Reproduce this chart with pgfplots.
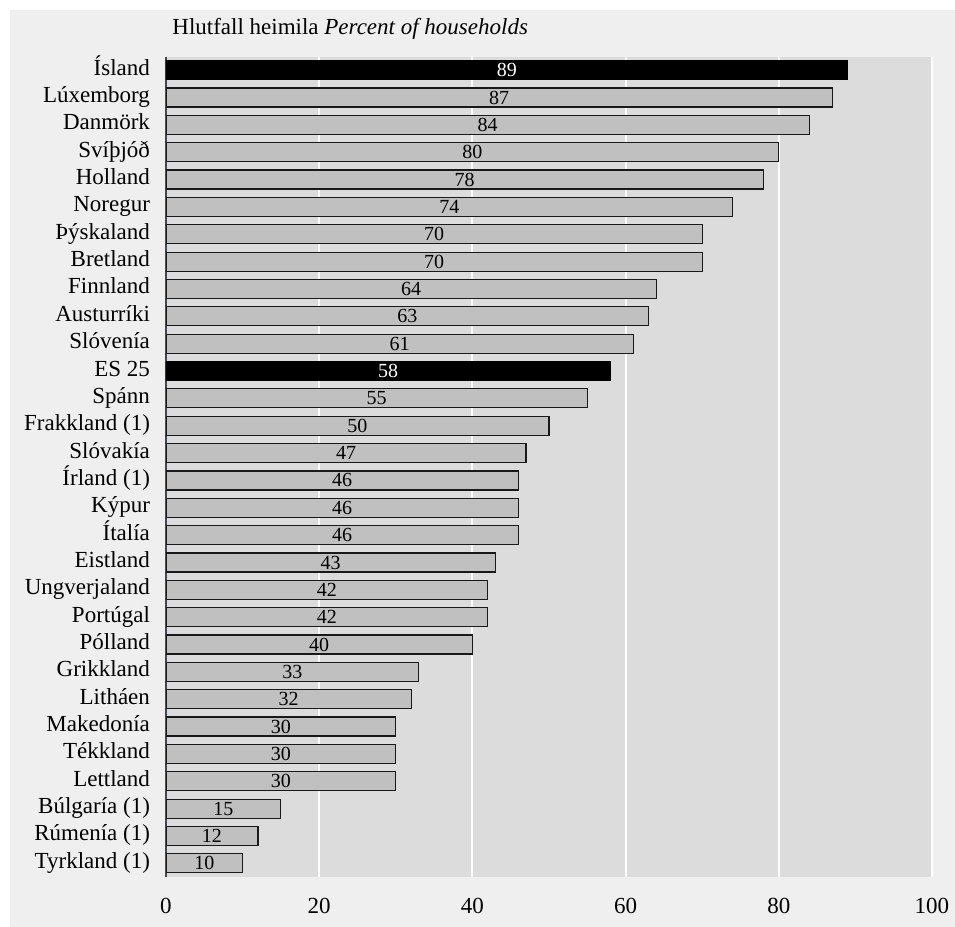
\documentclass[border=0pt]{standalone}
\usepackage{pgfplots}
\pgfplotsset{compat=1.18}
\usepackage{pgfplotstable}
\usepackage{fontspec}
\setmainfont{Liberation Serif}
\definecolor{outerbg}{HTML}{EFEFEF}
\definecolor{plotbg}{HTML}{DCDCDC}
\definecolor{bargrey}{HTML}{C0C0C0}
\definecolor{axisline}{HTML}{404858}

% i = row (0 = top), v = value
\pgfplotstableread{
i v
1 87
2 84
3 80
4 78
5 74
6 70
7 70
8 64
9 63
10 61
12 55
13 50
14 47
15 46
16 46
17 46
18 43
19 42
20 42
21 40
22 33
23 32
24 30
25 30
26 30
27 15
28 12
29 10
}\greydata
\pgfplotstableread{
i v
0 89
11 58
}\blackdata

\begin{document}
\begin{tikzpicture}
\useasboundingbox (0,0) rectangle (477.5pt,463.5pt);
\fill[white] (0,0) rectangle (477.5pt,463.5pt);
\fill[outerbg] (5pt,0) rectangle (477.5pt,458.5pt);
\begin{axis}[
  at={(83pt,25pt)}, anchor=south west,
  scale only axis,
  width=383pt, height=410.25pt,
  xmin=0, xmax=100,
  ymin=-0.5, ymax=29.5,
  y dir=reverse,
  enlargelimits=false,
  axis background/.style={fill=plotbg},
  axis x line*=bottom, axis y line*=left,
  x axis line style={draw=none},
  y axis line style={draw=axisline, line width=0.6pt, -},
  xtick={0,20,40,60,80,100},
  ytick={0,...,29},
  yticklabels={{Ísland},{Lúxemborg},{Danmörk},{Svíþjóð},{Holland},{Noregur},{Þýskaland},{Bretland},{Finnland},{Austurríki},{Slóvenía},{ES 25},{Spánn},{Frakkland (1)},{Slóvakía},{Írland (1)},{Kýpur},{Ítalía},{Eistland},{Ungverjaland},{Portúgal},{Pólland},{Grikkland},{Litháen},{Makedonía},{Tékkland},{Lettland},{Búlgaría (1)},{Rúmenía (1)},{Tyrkland (1)}},
  major tick length=0pt,
  xmajorgrids, ymajorgrids=false,
  grid style={white, line width=1pt},
  /pgf/number format/assume math mode=true,
  tick label style={font=\fontsize{11.5}{13}\selectfont, text=black},
  xticklabel style={yshift=-7pt},
  yticklabel style={xshift=-4.5pt, text height=0.72em, text depth=0.22em},
  title={Hlutfall heimila \textit{Percent of households}},
  title style={at={(0,1)}, anchor=base west, xshift=3pt, yshift=5pt, font=\fontsize{11.5}{13}\selectfont, inner sep=0pt},
]
\addplot[xbar, bar shift=0pt, bar width=9.5pt, fill=bargrey, draw=black!90, line width=0.6pt]
  table[x=v, y=i] {\greydata};
\addplot[xbar, bar shift=0pt, bar width=9.5pt, fill=black, draw=black, line width=0.6pt]
  table[x=v, y=i] {\blackdata};
\addplot[draw=none, mark=none, nodes near coords, point meta=explicit,
  nodes near coords align=center,
  every node near coord/.append style={anchor=center, font=\fontsize{10}{12}\selectfont, text=black}]
  table[x expr=\thisrow{v}/2, y=i, meta=v] {\greydata};
\addplot[draw=none, mark=none, nodes near coords, point meta=explicit,
  nodes near coords align=center,
  every node near coord/.append style={anchor=center, font=\fontsize{10}{12}\selectfont, text=white}]
  table[x expr=\thisrow{v}/2, y=i, meta=v] {\blackdata};
\end{axis}
\end{tikzpicture}
\end{document}
